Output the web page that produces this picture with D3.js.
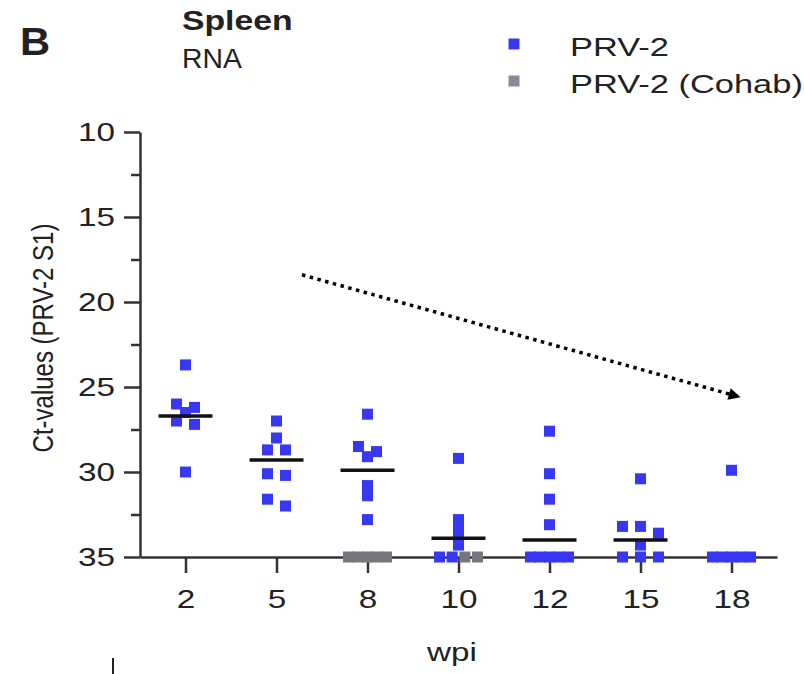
<!DOCTYPE html>
<html>
<head>
<meta charset="utf-8">
<script src="https://cdn.jsdelivr.net/npm/d3@7"></script>
<style>
  body { margin: 0; background: #fff; }
  text { font-family: "Liberation Sans", Arial, sans-serif; fill: #222; }
</style>
</head>
<body>
<svg width="804" height="674"></svg>
<script>
// weeks post infection, one column each
var weeks = ["2", "5", "8", "10", "12", "15", "18"];

// Ct values per fish, PRV-2 infected (blue)
var prv2 = [
  [23.7, 26.0, 26.2, 26.5, 27.0, 27.2, 30.0],
  [27.0, 28.0, 28.7, 28.7, 30.1, 30.2, 31.6, 32.0],
  [26.6, 28.5, 28.8, 29.1, 30.8, 31.4, 32.8],
  [29.2, 32.8, 33.3, 33.8, 34.3, 35, 35],
  [27.6, 30.1, 31.6, 33.1, 35, 35, 35, 35, 35],
  [30.4, 33.2, 33.2, 33.6, 34.3, 35, 35, 35],
  [29.9, 35, 35, 35, 35, 35]
];

// cohabitants (grey)
var cohab = [[], [], [35, 35, 35, 35, 35], [35, 35], [], [], []];

// horizontal bar per week (null = none visible)
var centre = [26.7, 29.3, 29.9, 33.9, 34.0, 34.0, null];

var yTicks = [10, 15, 20, 25, 30, 35];
var yMinor = [12.5, 17.5, 22.5, 27.5, 32.5];

// dotted trend arrow, in week / Ct units
var trend = [{week: "5", shift: 0.28, ct: 18.4}, {week: "18", shift: 0.1, ct: 25.6}];

var svg = d3.select("svg"),
    sx = 1.28; // the source text is drawn a little wide

var x = d3.scalePoint().domain(weeks).range([140, 777]).padding(0.5);
var y = d3.scaleLinear().domain([10, 35]).range([132, 557]);

//-----------------------------------------------------------------
// axes
var gy = svg.append("g")
    .attr("transform", "translate(140,0)")
    .call(d3.axisLeft(y).tickValues(yTicks).tickSize(16).tickSizeOuter(0))
    .attr("font-size", 26)
    .attr("font-family", "Liberation Sans, Arial, sans-serif");
gy.selectAll("text").attr("x", -25 / sx).attr("transform", "scale(" + sx + ",1)");

svg.append("g")
    .attr("transform", "translate(140,0)")
    .call(d3.axisLeft(y).tickValues(yMinor).tickSize(9).tickFormat(""))
    .select(".domain").remove();

var gx = svg.append("g")
    .attr("transform", "translate(0," + y(35) + ")")
    .call(d3.axisBottom(x).tickSize(16).tickSizeOuter(0).tickPadding(17))
    .attr("font-size", 26)
    .attr("font-family", "Liberation Sans, Arial, sans-serif");
gx.selectAll("text").attr("transform", "scale(" + sx + ",1)");

svg.selectAll(".domain, .tick line")
    .attr("stroke", "#333")
    .attr("stroke-width", 2.5);
svg.selectAll(".tick text").attr("fill", "#222");

//-----------------------------------------------------------------
// points, stacked side by side when values sit on the same row
var size = 11;
var pts = [];
weeks.forEach(function (w, i) {
  var all = prv2[i].map(function (v, k) { return {week: w, ct: v, grp: 0, k: k}; })
    .concat(cohab[i].map(function (v, k) { return {week: w, ct: v, grp: 1, k: k}; }));
  all.sort(function (a, b) { return (a.ct - b.ct) || (a.grp - b.grp) || (a.k - b.k); });
  var rows = [];
  all.forEach(function (p) {
    var row = rows[rows.length - 1];
    if (row && y(p.ct) - y(row[0].ct) < 7) row.push(p);
    else rows.push([p]);
  });
  rows.forEach(function (row) {
    var n = row.length,
        step = n > 1 ? Math.min(18, 38 / (n - 1)) : 0;
    row.forEach(function (p, j) {
      p.dx = (j - (n - 1) / 2) * step;
      pts.push(p);
    });
  });
});

svg.append("g").selectAll("rect")
    .data(pts)
  .enter().append("rect")
    .attr("x", function (d) { return x(d.week) + d.dx - size / 2; })
    .attr("y", function (d) { return y(d.ct) - size / 2; })
    .attr("width", size)
    .attr("height", size)
    .attr("fill", function (d) { return d.grp ? "#76767f" : "#3838f4"; });

svg.append("g").selectAll("line")
    .data(weeks.filter(function (w, i) { return centre[i] != null; }))
  .enter().append("line")
    .attr("x1", function (w) { return x(w) - 27; })
    .attr("x2", function (w) { return x(w) + 27; })
    .attr("y1", function (w) { return y(centre[weeks.indexOf(w)]); })
    .attr("y2", function (w) { return y(centre[weeks.indexOf(w)]); })
    .attr("stroke", "#111")
    .attr("stroke-width", 3.5);

//-----------------------------------------------------------------
// dotted arrow
svg.append("defs").append("marker")
    .attr("id", "head")
    .attr("viewBox", "0 0 10 10")
    .attr("refX", 10).attr("refY", 5)
    .attr("markerWidth", 15).attr("markerHeight", 12)
    .attr("markerUnits", "userSpaceOnUse")
    .attr("orient", "auto")
  .append("path")
    .attr("d", "M0,0L10,5L0,10Z")
    .attr("fill", "#000");

svg.append("line")
    .attr("x1", x(trend[0].week) + trend[0].shift * x.step())
    .attr("y1", y(trend[0].ct))
    .attr("x2", x(trend[1].week) + trend[1].shift * x.step())
    .attr("y2", y(trend[1].ct))
    .attr("stroke", "#000")
    .attr("stroke-width", 3.5)
    .attr("stroke-dasharray", "3.5,4.5")
    .attr("marker-end", "url(#head)");

//-----------------------------------------------------------------
// labels
svg.append("text")
    .attr("transform", "translate(43,338) scale(1.2,1) rotate(-90)")
    .attr("text-anchor", "middle")
    .attr("dy", "0.35em")
    .attr("font-size", 24)
    .text("Ct-values (PRV-2 S1)");

svg.append("text")
    .attr("transform", "translate(452,661) scale(" + sx + ",1)")
    .attr("text-anchor", "middle")
    .attr("font-size", 26)
    .text("wpi");

svg.append("text")
    .attr("transform", "translate(20,55) scale(1.1,1)")
    .attr("font-size", 38)
    .attr("font-weight", "bold")
    .text("B");

svg.append("text")
    .attr("transform", "translate(182,30) scale(1.25,1)")
    .attr("font-size", 27)
    .attr("font-weight", "bold")
    .text("Spleen");

svg.append("text")
    .attr("transform", "translate(182,68) scale(1.05,1)")
    .attr("font-size", 27)
    .text("RNA");

// legend
var legend = [{name: "PRV-2", color: "#3838f4"}, {name: "PRV-2 (Cohab)", color: "#8a8a98"}];
var lg = svg.append("g").selectAll("g")
    .data(legend)
  .enter().append("g")
    .attr("transform", function (d, i) { return "translate(514," + (44 + i * 37) + ")"; });
lg.append("rect")
    .attr("x", -5.5).attr("y", -5.5)
    .attr("width", 11).attr("height", 11)
    .attr("fill", function (d) { return d.color; });
lg.append("text")
    .attr("transform", "translate(56,12) scale(1.3,1)")
    .attr("font-size", 26.5)
    .text(function (d) { return d.name; });

// stray mark at the bottom left of the source
svg.append("line")
    .attr("x1", 113).attr("x2", 113)
    .attr("y1", 658).attr("y2", 674)
    .attr("stroke", "#222")
    .attr("stroke-width", 2);
</script>
</body>
</html>
